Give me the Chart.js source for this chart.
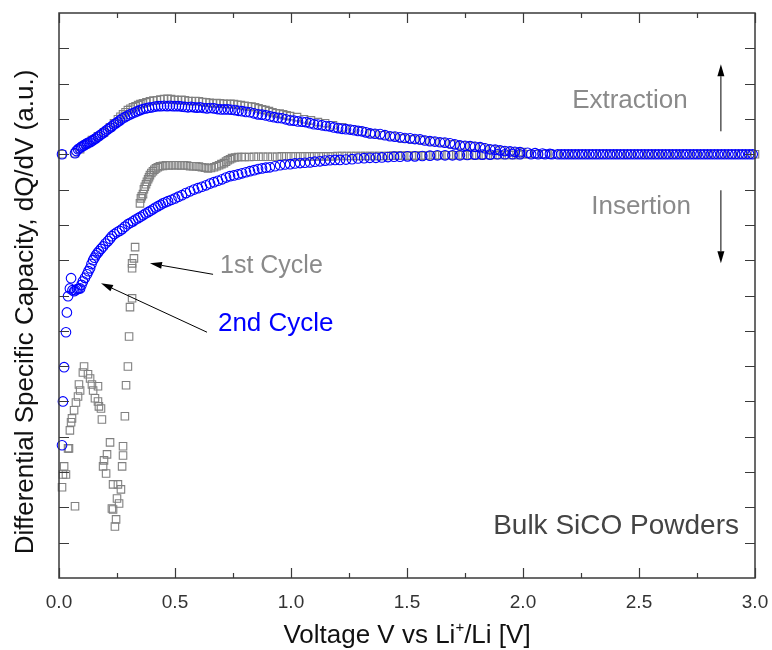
<!DOCTYPE html>
<html>
<head>
<meta charset="utf-8">
<title>dQ/dV - Bulk SiCO Powders</title>
<script src="https://cdn.jsdelivr.net/npm/chart.js@4.4.1/dist/chart.umd.min.js"></script>
<style>
  html, body { margin: 0; padding: 0; background: #fff; }
  #wrap { width: 772px; height: 650px; }
</style>
</head>
<body>
<div id="wrap"><canvas id="chart" width="772" height="650"></canvas></div>
<script>
// x = voltage vs Li+/Li [V], y = dQ/dV in arbitrary units (1 unit = one y tick)
const voltageTicks = [0, 0.5, 1.0, 1.5, 2.0, 2.5, 3.0];
const voltageMinorTicks = [0.25, 0.75, 1.25, 1.75, 2.25, 2.75];
const capacityTicks = [-11, -10, -9, -8, -7, -6, -5, -4, -3, -2, -1, 0, 1, 2, 3];

// 2nd cycle, extraction branch (upper)
const cycle2Extraction = [
  [0.013,0],[0.069,0.03],[0.075,0.09],[0.082,0.14],[0.088,0.17],[0.095,0.20],[0.101,0.23],
  [0.108,0.25],[0.114,0.28],[0.121,0.31],[0.127,0.33],[0.134,0.34],[0.140,0.37],[0.147,0.40],
  [0.153,0.43],[0.159,0.45],[0.168,0.50],[0.177,0.54],[0.186,0.58],[0.194,0.62],[0.203,0.67],
  [0.211,0.71],[0.220,0.75],[0.228,0.79],[0.237,0.84],[0.246,0.88],[0.254,0.92],[0.263,0.96],
  [0.273,1.01],[0.284,1.05],[0.295,1.09],[0.306,1.13],[0.317,1.16],[0.328,1.19],[0.338,1.22],
  [0.349,1.25],[0.362,1.28],[0.375,1.30],[0.388,1.32],[0.401,1.33],[0.414,1.35],[0.427,1.36],
  [0.440,1.36],[0.453,1.37],[0.466,1.36],[0.478,1.37],[0.491,1.36],[0.504,1.36],[0.517,1.36],
  [0.530,1.35],[0.543,1.34],[0.556,1.33],[0.569,1.34],[0.582,1.33],[0.595,1.32],[0.608,1.33],
  [0.623,1.31],[0.638,1.30],[0.653,1.31],[0.668,1.30],[0.683,1.28],[0.698,1.27],[0.713,1.27],
  [0.728,1.27],[0.743,1.26],[0.759,1.25],[0.774,1.23],[0.789,1.22],[0.806,1.20],[0.823,1.19],
  [0.840,1.16],[0.858,1.13],[0.875,1.12],[0.892,1.10],[0.910,1.07],[0.927,1.05],[0.944,1.03],
  [0.961,1.02],[0.978,0.99],[0.996,0.96],[1.013,0.95],[1.030,0.93],[1.048,0.92],[1.065,0.91],
  [1.082,0.88],[1.099,0.85],[1.116,0.84],[1.134,0.82],[1.151,0.80],[1.168,0.79],[1.185,0.76],
  [1.203,0.74],[1.220,0.72],[1.237,0.71],[1.255,0.70],[1.272,0.68],[1.289,0.66],[1.306,0.65],
  [1.323,0.62],[1.341,0.59],[1.362,0.58],[1.384,0.57],[1.405,0.54],[1.427,0.51],[1.448,0.50],
  [1.470,0.48],[1.491,0.46],[1.513,0.45],[1.534,0.43],[1.556,0.42],[1.577,0.39],[1.599,0.37],
  [1.620,0.36],[1.642,0.34],[1.663,0.33],[1.685,0.31],[1.706,0.28],[1.728,0.25],[1.750,0.24],
  [1.772,0.23],[1.793,0.21],[1.815,0.20],[1.836,0.17],[1.858,0.14],[1.880,0.13],[1.901,0.11],
  [1.922,0.09],[1.944,0.08],[1.965,0.07],[1.987,0.06],[2.020,0.04],[2.052,0.03],[2.084,0.02],
  [2.116,0.01],
  [2.15,0],[2.18,0],[2.21,0],[2.24,0],[2.27,0],[2.30,0],[2.33,0],[2.36,0],[2.39,0],[2.42,0],
  [2.45,0],[2.48,0],[2.51,0],[2.54,0],[2.57,0],[2.60,0],[2.63,0],[2.66,0],[2.69,0],[2.72,0],
  [2.75,0],[2.78,0],[2.81,0],[2.84,0],[2.87,0],[2.90,0],[2.93,0],[2.96,0],[2.99,0]
];

// 2nd cycle, insertion branch (lower)
const cycle2Insertion = [
  [0.013,-8.24],[0.017,-7.00],[0.022,-6.03],[0.030,-5.04],[0.034,-4.48],[0.039,-4.02],
  [0.047,-3.80],[0.052,-3.51],[0.058,-3.85],[0.065,-3.88],[0.071,-3.85],[0.078,-3.82],
  [0.084,-3.81],[0.091,-3.80],[0.097,-3.70],[0.103,-3.60],[0.112,-3.50],[0.121,-3.40],
  [0.127,-3.31],[0.134,-3.23],[0.140,-3.11],[0.147,-3.00],[0.153,-2.93],[0.159,-2.86],
  [0.166,-2.80],[0.172,-2.75],[0.181,-2.68],[0.190,-2.61],[0.200,-2.53],[0.211,-2.46],
  [0.220,-2.39],[0.228,-2.32],[0.239,-2.26],[0.250,-2.21],[0.261,-2.17],[0.272,-2.12],
  [0.284,-2.05],[0.297,-1.98],[0.308,-1.94],[0.319,-1.90],[0.330,-1.85],[0.341,-1.81],
  [0.351,-1.77],[0.362,-1.73],[0.373,-1.68],[0.384,-1.64],[0.394,-1.60],[0.405,-1.56],
  [0.416,-1.51],[0.427,-1.47],[0.438,-1.43],[0.448,-1.39],[0.459,-1.36],[0.470,-1.33],
  [0.485,-1.29],[0.500,-1.25],[0.515,-1.20],[0.530,-1.16],[0.547,-1.10],[0.565,-1.05],
  [0.582,-1.00],[0.599,-0.96],[0.616,-0.92],[0.634,-0.88],[0.651,-0.83],[0.668,-0.79],
  [0.685,-0.75],[0.703,-0.71],[0.720,-0.66],[0.737,-0.62],[0.754,-0.60],[0.772,-0.57],
  [0.789,-0.54],[0.806,-0.51],[0.823,-0.48],[0.841,-0.45],[0.858,-0.42],[0.875,-0.40],
  [0.892,-0.38],[0.909,-0.37],[0.931,-0.34],[0.953,-0.31],[0.974,-0.29],[0.996,-0.28],
  [1.017,-0.26],[1.039,-0.25],[1.060,-0.24],[1.082,-0.23],[1.103,-0.21],[1.125,-0.20],
  [1.147,-0.18],[1.168,-0.17],[1.190,-0.16],[1.211,-0.16],[1.237,-0.15],[1.263,-0.14],
  [1.289,-0.12],[1.315,-0.11],[1.340,-0.10],[1.366,-0.10],[1.392,-0.09],[1.418,-0.08],
  [1.444,-0.07],[1.470,-0.07],[1.502,-0.06],[1.534,-0.06],[1.566,-0.05],[1.599,-0.04],
  [1.631,-0.03],[1.664,-0.03],[1.696,-0.03],[1.728,-0.03],[1.760,-0.02],[1.793,-0.01],
  [1.825,-0.01],[1.858,-0.01],[1.890,0],[1.922,0],[1.955,0],[1.987,0],
  [2.035,0],[2.065,0],[2.095,0],[2.125,0],[2.165,0],[2.195,0],[2.225,0],[2.255,0],[2.285,0],
  [2.315,0],[2.345,0],[2.375,0],[2.405,0],[2.435,0],[2.465,0],[2.495,0],[2.525,0],[2.555,0],
  [2.585,0],[2.615,0],[2.645,0],[2.675,0],[2.705,0],[2.735,0],[2.765,0],[2.795,0],[2.825,0],
  [2.855,0],[2.885,0],[2.915,0],[2.945,0],[2.975,0]
];

// 1st cycle, extraction branch (upper)
const cycle1Extraction = [
  [0.013,0],[0.069,0.03],[0.091,0.14],[0.116,0.28],[0.142,0.40],[0.168,0.51],[0.194,0.62],
  [0.220,0.76],[0.237,0.88],[0.254,0.99],[0.265,1.06],[0.276,1.13],[0.287,1.19],[0.297,1.25],
  [0.308,1.29],[0.319,1.33],[0.330,1.36],[0.341,1.39],[0.351,1.42],[0.362,1.44],[0.377,1.47],
  [0.392,1.50],[0.407,1.52],[0.422,1.53],[0.437,1.55],[0.453,1.56],[0.468,1.57],[0.483,1.56],
  [0.498,1.54],[0.513,1.53],[0.528,1.54],[0.543,1.53],[0.558,1.51],[0.573,1.50],[0.588,1.51],
  [0.603,1.50],[0.618,1.48],[0.634,1.47],[0.649,1.46],[0.664,1.44],[0.679,1.45],[0.694,1.44],
  [0.709,1.43],[0.724,1.42],[0.739,1.43],[0.754,1.42],[0.769,1.40],[0.784,1.39],[0.800,1.37],
  [0.815,1.36],[0.830,1.35],[0.845,1.33],[0.860,1.30],[0.875,1.27],[0.890,1.25],[0.905,1.22],
  [0.920,1.19],[0.935,1.16],[0.951,1.15],[0.966,1.13],[0.981,1.10],[0.996,1.08],[1.026,1.05],
  [1.056,0.99],[1.086,0.96],[1.116,0.91],[1.147,0.88],[1.181,0.82],[1.220,0.76],[1.263,0.71],
  [1.306,0.65],[1.349,0.59],[1.392,0.54],[1.435,0.51],[1.478,0.45],[1.522,0.42],[1.565,0.40],
  [1.608,0.37],[1.651,0.34],[1.694,0.28],[1.737,0.25],[1.780,0.23],[1.823,0.20],[1.866,0.14],
  [1.909,0.11],[1.953,0.08],[1.996,0.06],
  [2.05,0],[2.10,0],[2.15,0],[2.20,0],[2.25,0],[2.30,0],[2.35,0],[2.40,0],[2.45,0],[2.50,0],
  [2.55,0],[2.60,0],[2.65,0],[2.70,0],[2.75,0],[2.80,0],[2.85,0],[2.90,0],[2.95,0],[3.00,0]
];

// 1st cycle, insertion branch (lower)
const cycle1Insertion = [
  [2.98,0],[2.94,0],[2.90,0],[2.86,0],[2.82,0],[2.78,0],[2.74,0],[2.70,0],[2.66,0],[2.62,0],
  [2.58,0],[2.54,0],[2.50,0],[2.46,0],[2.42,0],[2.38,0],[2.34,0],[2.30,0],[2.26,0],[2.22,0],
  [2.18,0],[2.14,0],[2.10,0],[2.06,0],[2.02,0],
  [2.00,0],[1.98,-0.02],[1.96,-0.02],[1.94,-0.02],[1.92,-0.02],[1.90,-0.02],[1.88,-0.02],
  [1.86,-0.02],[1.84,-0.02],[1.82,-0.03],[1.80,-0.03],[1.78,-0.03],[1.76,-0.03],[1.74,-0.03],
  [1.72,-0.03],[1.70,-0.03],[1.68,-0.03],[1.66,-0.03],[1.64,-0.03],[1.62,-0.03],[1.60,-0.03],
  [1.58,-0.04],[1.56,-0.04],[1.54,-0.04],[1.52,-0.04],[1.50,-0.04],[1.48,-0.04],[1.46,-0.04],
  [1.44,-0.04],[1.42,-0.05],[1.40,-0.05],[1.38,-0.05],[1.36,-0.05],[1.34,-0.05],[1.32,-0.05],
  [1.30,-0.05],[1.28,-0.05],[1.26,-0.05],[1.24,-0.05],[1.22,-0.05],[1.20,-0.05],[1.18,-0.06],
  [1.16,-0.06],[1.14,-0.06],[1.12,-0.06],[1.10,-0.06],[1.08,-0.06],[1.06,-0.06],[1.04,-0.06],
  [1.02,-0.06],[1.00,-0.06],[0.98,-0.06],[0.96,-0.06],[0.94,-0.07],[0.92,-0.07],[0.90,-0.07],
  [0.88,-0.07],[0.86,-0.07],[0.84,-0.07],[0.82,-0.08],[0.80,-0.08],[0.786,-0.08],
  [0.772,-0.08],[0.759,-0.09],[0.746,-0.11],[0.737,-0.14],[0.728,-0.17],[0.720,-0.21],
  [0.711,-0.25],[0.700,-0.28],[0.690,-0.31],[0.679,-0.34],[0.668,-0.37],[0.655,-0.39],
  [0.642,-0.40],[0.629,-0.38],[0.616,-0.37],[0.603,-0.35],[0.591,-0.34],[0.578,-0.34],
  [0.565,-0.34],[0.552,-0.32],[0.539,-0.31],[0.526,-0.32],[0.513,-0.31],[0.500,-0.31],
  [0.487,-0.31],[0.474,-0.32],[0.461,-0.31],[0.448,-0.33],[0.435,-0.34],[0.426,-0.37],
  [0.418,-0.40],[0.411,-0.44],[0.405,-0.48],[0.398,-0.53],[0.392,-0.59],[0.388,-0.65],
  [0.384,-0.71],[0.379,-0.78],[0.375,-0.85],[0.370,-0.92],[0.366,-0.99],[0.362,-1.13],
  [0.357,-1.19],[0.353,-1.25],[0.349,-1.39],
  [0.328,-2.63],[0.323,-2.95],[0.315,-3.09],[0.315,-3.23],[0.315,-4.08],[0.306,-4.33],
  [0.302,-5.16],[0.297,-6.01],[0.289,-6.54],[0.284,-7.42],[0.276,-8.27],[0.276,-8.53],
  [0.272,-8.84],[0.267,-9.49],[0.259,-9.89],[0.254,-9.35],[0.250,-9.75],[0.246,-10.34],
  [0.241,-10.54],[0.233,-10.06],[0.228,-10.03],[0.233,-9.35],[0.220,-8.16],[0.207,-8.50],
  [0.194,-8.67],[0.190,-8.84],[0.203,-9.04],[0.185,-7.51],[0.181,-7.20],[0.172,-7.14],
  [0.168,-7.00],[0.155,-6.91],[0.168,-6.57],[0.147,-6.69],[0.142,-6.52],[0.134,-6.35],
  [0.125,-6.23],[0.108,-6.01],[0.103,-6.18],[0.091,-6.69],[0.086,-6.52],[0.082,-6.86],
  [0.073,-7.03],[0.065,-7.25],[0.056,-7.48],[0.052,-7.59],[0.047,-7.82],[0.043,-8.33],
  [0.039,-8.33],[0.022,-8.84],[0.030,-9.07],[0.017,-9.07],[0.013,-9.43],[0.069,-9.97]
];

const FONT = '"Liberation Sans", Arial, Helvetica, sans-serif';
const BLUE = '#0000ff';
const GREY = '#808080';

function toPoints(pairs) {
  return pairs.map(p => ({ x: p[0], y: p[1] }));
}

// arrow from (x1,y1) to tip (x2,y2), pixel coords
function drawArrow(ctx, x1, y1, x2, y2) {
  const ang = Math.atan2(y2 - y1, x2 - x1);
  const len = 12, half = 3.5;
  const bx = x2 - len * Math.cos(ang), by = y2 - len * Math.sin(ang);
  ctx.beginPath();
  ctx.moveTo(x1, y1);
  ctx.lineTo(bx, by);
  ctx.stroke();
  ctx.beginPath();
  ctx.moveTo(x2, y2);
  ctx.lineTo(bx + half * Math.sin(ang), by - half * Math.cos(ang));
  ctx.lineTo(bx - half * Math.sin(ang), by + half * Math.cos(ang));
  ctx.closePath();
  ctx.fill();
}

// frame with inward ticks on all four sides + x tick labels
const framePlugin = {
  id: 'frame',
  afterDatasetsDraw(chart) {
    const { ctx, chartArea: a, scales: { x, y } } = chart;
    ctx.save();
    ctx.strokeStyle = '#3a3a3a';
    ctx.lineWidth = 1.5;
    ctx.strokeRect(a.left, a.top, a.right - a.left, a.bottom - a.top);
    ctx.lineWidth = 1.2;
    ctx.beginPath();
    voltageTicks.forEach(v => {
      const px = Math.round(x.getPixelForValue(v)) + 0.5;
      ctx.moveTo(px, a.bottom); ctx.lineTo(px, a.bottom - 10);
      ctx.moveTo(px, a.top); ctx.lineTo(px, a.top + 10);
    });
    voltageMinorTicks.forEach(v => {
      const px = Math.round(x.getPixelForValue(v)) + 0.5;
      ctx.moveTo(px, a.bottom); ctx.lineTo(px, a.bottom - 5);
      ctx.moveTo(px, a.top); ctx.lineTo(px, a.top + 5);
    });
    capacityTicks.forEach(v => {
      const py = Math.round(y.getPixelForValue(v)) + 0.5;
      ctx.moveTo(a.left, py); ctx.lineTo(a.left + 10, py);
      ctx.moveTo(a.right, py); ctx.lineTo(a.right - 10, py);
    });
    ctx.stroke();

    ctx.fillStyle = '#333';
    ctx.font = '19px ' + FONT;
    ctx.textAlign = 'center';
    ctx.textBaseline = 'alphabetic';
    voltageTicks.forEach(v => {
      ctx.fillText(v.toFixed(1), x.getPixelForValue(v), a.bottom + 30);
    });
    ctx.restore();
  }
};

// axis titles and annotations
const notesPlugin = {
  id: 'notes',
  afterDraw(chart) {
    const { ctx, chartArea: a, scales: { x, y } } = chart;
    const X = v => x.getPixelForValue(v);
    const Y = v => y.getPixelForValue(v);
    ctx.save();

    // y title
    ctx.fillStyle = '#111';
    ctx.font = '26px ' + FONT;
    ctx.textAlign = 'center';
    ctx.textBaseline = 'alphabetic';
    ctx.save();
    ctx.translate(33, 312);
    ctx.rotate(-Math.PI / 2);
    ctx.fillText('Differential Specific Capacity, dQ/dV (a.u.)', 0, 0);
    ctx.restore();

    // x title with superscript
    const big = '26px ' + FONT, small = '15px ' + FONT;
    const p1 = 'Voltage V vs Li', sup = '+', p2 = '/Li [V]';
    ctx.font = big; const w1 = ctx.measureText(p1).width, w3 = ctx.measureText(p2).width;
    ctx.font = small; const w2 = ctx.measureText(sup).width;
    let tx = (a.left + a.right) / 2 - (w1 + w2 + w3) / 2;
    const base = a.bottom + 65;
    ctx.textAlign = 'left';
    ctx.font = big; ctx.fillText(p1, tx, base); tx += w1;
    ctx.font = small; ctx.fillText(sup, tx, base - 11); tx += w2;
    ctx.font = big; ctx.fillText(p2, tx, base);

    // annotations
    ctx.font = '26px ' + FONT;
    ctx.fillStyle = '#8a8a8a';
    ctx.textAlign = 'center';
    ctx.fillText('Extraction', X(2.461), Y(1.30));
    ctx.fillText('Insertion', X(2.509), Y(-1.70));
    ctx.textAlign = 'left';
    ctx.font = '25px ' + FONT;
    ctx.fillText('1st Cycle', X(0.694), Y(-3.37));
    ctx.fillStyle = BLUE;
    ctx.font = '26px ' + FONT;
    ctx.fillText('2nd Cycle', X(0.685), Y(-5.01));
    ctx.fillStyle = '#444';
    ctx.font = '28px ' + FONT;
    ctx.textAlign = 'right';
    ctx.fillText('Bulk SiCO Powders', X(2.931), Y(-10.76));

    ctx.strokeStyle = '#000';
    ctx.fillStyle = '#000';
    ctx.lineWidth = 1;
    drawArrow(ctx, X(2.853), Y(0.65), X(2.853), Y(2.55));
    drawArrow(ctx, X(2.853), Y(-1.02), X(2.853), Y(-3.09));
    drawArrow(ctx, X(0.664), Y(-3.40), X(0.392), Y(-3.09));
    drawArrow(ctx, X(0.638), Y(-5.04), X(0.181), Y(-3.65));
    ctx.restore();
  }
};

const baseSet = { showLine: false, clip: false, pointBackgroundColor: 'rgba(0,0,0,0)' };

new Chart(document.getElementById('chart'), {
  type: 'scatter',
  data: {
    datasets: [
      { ...baseSet, label: '2nd Cycle extraction', data: toPoints(cycle2Extraction), order: 1,
        pointStyle: 'circle', pointRadius: 4.8, pointBorderWidth: 1.1, pointBorderColor: BLUE },
      { ...baseSet, label: '2nd Cycle insertion', data: toPoints(cycle2Insertion), order: 1,
        pointStyle: 'circle', pointRadius: 4.8, pointBorderWidth: 1.1, pointBorderColor: BLUE },
      { ...baseSet, label: '1st Cycle extraction', data: toPoints(cycle1Extraction), order: 2,
        pointStyle: 'rect', pointRadius: 5.3, pointBorderWidth: 1.1, pointBorderColor: GREY },
      { ...baseSet, label: '1st Cycle insertion', data: toPoints(cycle1Insertion), order: 2,
        pointStyle: 'rect', pointRadius: 5.3, pointBorderWidth: 1.1, pointBorderColor: GREY }
    ]
  },
  options: {
    responsive: false,
    animation: false,
    devicePixelRatio: 1,
    layout: { padding: { top: 13, right: 17, left: 0, bottom: 0 } },
    plugins: { legend: { display: false }, tooltip: { enabled: false } },
    scales: {
      x: {
        type: 'linear', min: 0, max: 3,
        afterFit: s => { s.height = 72; },
        grid: { display: false, drawTicks: false },
        border: { display: false },
        ticks: { display: false, stepSize: 0.5 }
      },
      y: {
        type: 'linear', min: -12, max: 4,
        afterFit: s => { s.width = 59; },
        grid: { display: false, drawTicks: false },
        border: { display: false },
        ticks: { display: false }
      }
    }
  },
  plugins: [framePlugin, notesPlugin]
});
</script>
</body>
</html>
